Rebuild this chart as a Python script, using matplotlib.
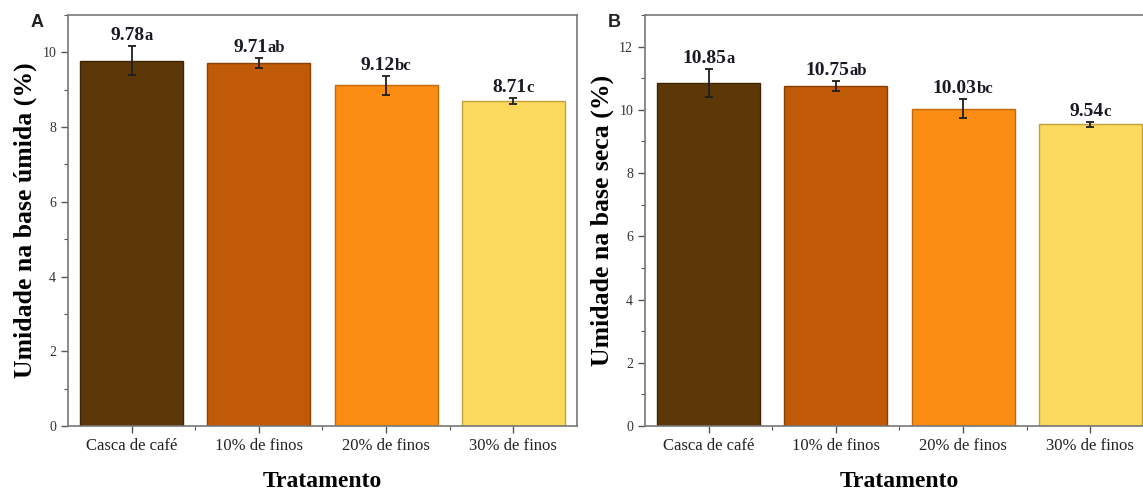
import numpy as np
from matplotlib import pyplot as plt
from matplotlib.ticker import MultipleLocator, FixedLocator

# data
tratamentos = ['Casca de café', '10% de finos', '20% de finos', '30% de finos']
umida_media = [9.78, 9.71, 9.12, 8.71]
umida_erro = [0.38, 0.13, 0.25, 0.08]
umida_letra = ['a', 'ab', 'bc', 'c']
seca_media = [10.85, 10.75, 10.03, 9.54]
seca_erro = [0.45, 0.15, 0.30, 0.08]
seca_letra = ['a', 'ab', 'bc', 'c']

cores = ['#5c3808', '#c05a06', '#fb8c12', '#fbd95c']
bordas = ['#3d2504', '#8a4004', '#c06a0a', '#c0a040']

serif = 'Liberation Serif'
plt.rcParams['font.family'] = serif

fig = plt.figure(figsize=(11.43, 4.92), dpi=100)
# panel B runs past the right edge, as in the cropped original
axA = fig.add_axes([0.0595, 0.134, 0.4453, 0.8355])
axB = fig.add_axes([0.5643, 0.134, 0.4453, 0.8355])


def painel(ax, media, erro, letras, ylabel, ymax, letra_painel):
    x = np.arange(len(media))
    ax.bar(x, media, width=0.81, color=cores, edgecolor=bordas, linewidth=1.0,
           zorder=2)
    ax.errorbar(x, media, yerr=erro, fmt='none', ecolor='#1e1e1e',
                elinewidth=1.3, capsize=3, capthick=1.3, zorder=3)
    for xi, m, e, l in zip(x, media, erro, letras):
        off = -3.0 * len(l)
        t = ax.annotate('%.2f' % m, xy=(xi, m + e), xytext=(off, 1.5),
                        textcoords='offset points', ha='center', va='bottom',
                        fontsize=14, fontweight='bold', color='#1a1a24')
        ax.annotate(l, xy=(1, 0), xycoords=t, xytext=(0, 0),
                    textcoords='offset points', ha='left', va='bottom',
                    fontsize=12, fontweight='bold', color='#1a1a24')
    ax.set_xlim(-0.5, 3.5)
    ax.set_ylim(0, ymax)
    ax.set_xticks(x)
    ax.set_xticklabels(tratamentos)
    ax.xaxis.set_minor_locator(FixedLocator([0.5, 1.5, 2.5]))
    ax.yaxis.set_major_locator(MultipleLocator(2))
    ax.yaxis.set_minor_locator(MultipleLocator(1))
    ax.tick_params(which='both', direction='out', colors='#555555',
                   labelcolor='#333333', top=False, right=False)
    ax.tick_params(which='major', length=5, width=1.0, labelsize=10)
    ax.tick_params(axis='x', which='major', labelsize=12, labelcolor='#222222')
    ax.tick_params(which='minor', length=3, width=0.8)
    for s in ax.spines.values():
        s.set_color('#777777')
        s.set_linewidth(1.2)
    ax.set_ylabel(ylabel, fontsize=18.5, fontweight='bold', labelpad=4)
    ax.set_xlabel('Tratamento', fontsize=17, fontweight='bold', labelpad=12)
    ax.text(-0.06, 0.982, letra_painel, transform=ax.transAxes, ha='center',
            va='center', fontsize=13, fontweight='bold',
            family='Liberation Sans', color='#222222')


painel(axA, umida_media, umida_erro, umida_letra,
       'Umidade na base úmida (%)', 11, 'A')
painel(axB, seca_media, seca_erro, seca_letra,
       'Umidade na base seca (%)', 13, 'B')

fig.savefig('out.png', dpi=100)
